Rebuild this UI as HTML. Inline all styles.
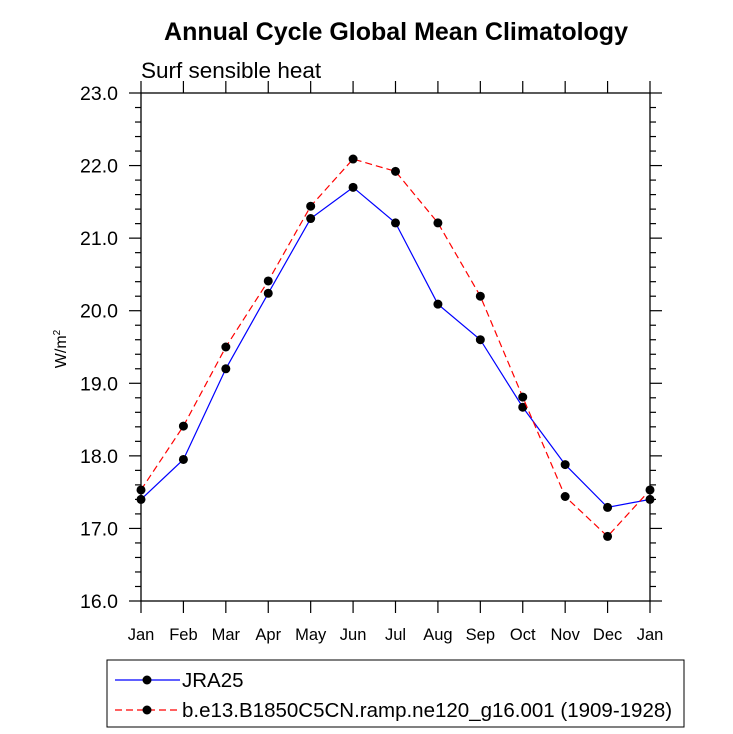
<!DOCTYPE html>
<html><head><meta charset="utf-8"><style>body{margin:0;background:#fff}svg{display:block}text{font-family:"Liberation Sans",sans-serif}</style></head>
<body>
<svg id="c" width="733" height="734">
<text x="396" y="40" text-anchor="middle" font-size="25" font-weight="bold">Annual Cycle Global Mean Climatology</text>
<text x="141" y="78" font-size="22.5">Surf sensible heat</text>
<text transform="translate(66,349) rotate(-90)" text-anchor="middle" font-size="16">W/m<tspan font-size="10" dy="-6">2</tspan></text>
<g id="axes"></g><g id="series"></g>
<rect x="107" y="660" width="577" height="67" fill="none" stroke="#000" stroke-width="1"/>
<g><line x1="115" y1="680" x2="180" y2="680" stroke="#00f" stroke-width="1.2"/><circle cx="147" cy="680" r="4.5"/><text x="182" y="687" font-size="20.5">JRA25</text></g>
<g><line x1="115" y1="710" x2="180" y2="710" stroke="#f00" stroke-width="1.2" stroke-dasharray="7,4"/><circle cx="147" cy="710" r="4.5"/><text x="182" y="717" font-size="20.5">b.e13.B1850C5CN.ramp.ne120_g16.001 (1909-1928)</text></g>
</svg>
<script>
const months=["Jan","Feb","Mar","Apr","May","Jun","Jul","Aug","Sep","Oct","Nov","Dec","Jan"];
const jra=[17.40,17.95,19.20,20.24,21.27,21.70,21.21,20.09,19.60,18.67,17.88,17.29,17.40];
const model=[17.53,18.41,19.50,20.41,21.44,22.09,21.92,21.21,20.20,18.81,17.44,16.89,17.53];
const yTicks=["16.0","17.0","18.0","19.0","20.0","21.0","22.0","23.0"];
const X0=141,X1=650,Y0=601,Y1=93,ymin=16,ymax=23;
const xs=i=>X0+(X1-X0)*i/12, ys=v=>Y0-(v-ymin)/(ymax-ymin)*(Y0-Y1);
const NS="http://www.w3.org/2000/svg";
function mk(t,a,p){const e=document.createElementNS(NS,t);for(const k in a)e.setAttribute(k,a[k]);p.appendChild(e);return e;}
const ax=document.getElementById('axes');
const fr=mk('rect',{x:X0,y:Y1,width:X1-X0,height:Y0-Y1,fill:'none',stroke:'#000','stroke-width':1.3},ax);


for(let v=160;v<=230;v+=2){const y=ys(v/10);const L=(v%10==0)?12:6;
mk('line',{x1:X0-L,y1:y,x2:X0,y2:y,stroke:'#000','stroke-width':1.2},ax);
mk('line',{x1:X1,y1:y,x2:X1+L,y2:y,stroke:'#000','stroke-width':1.2},ax);}
yTicks.forEach(s=>{const t=mk('text',{x:118,y:ys(parseFloat(s))+7,'text-anchor':'end','font-size':19.5},ax);t.textContent=s;

});
months.forEach((m,i)=>{const x=xs(i);
mk('line',{x1:x,y1:Y0,x2:x,y2:Y0+12,stroke:'#000','stroke-width':1.2},ax);
mk('line',{x1:x,y1:Y1-12,x2:x,y2:Y1,stroke:'#000','stroke-width':1.2},ax);
const t=mk('text',{x:x,y:640,'text-anchor':'middle','font-size':16.5},ax);t.textContent=m;

});
const sg=document.getElementById('series');
function draw(d,col,dash,name){const g=mk('g',{},sg);


mk('polyline',{points:d.map((v,i)=>xs(i)+','+ys(v)).join(' '),fill:'none',stroke:col,'stroke-width':1.2,'stroke-dasharray':dash},g);
d.forEach((v,i)=>{const c=mk('circle',{cx:xs(i),cy:ys(v),r:4.5,fill:'#000'},g);

});}
draw(jra,'#00f','none','series-jra25');
draw(model,'#f00','7,4','series-model');
</script>
</body></html>
